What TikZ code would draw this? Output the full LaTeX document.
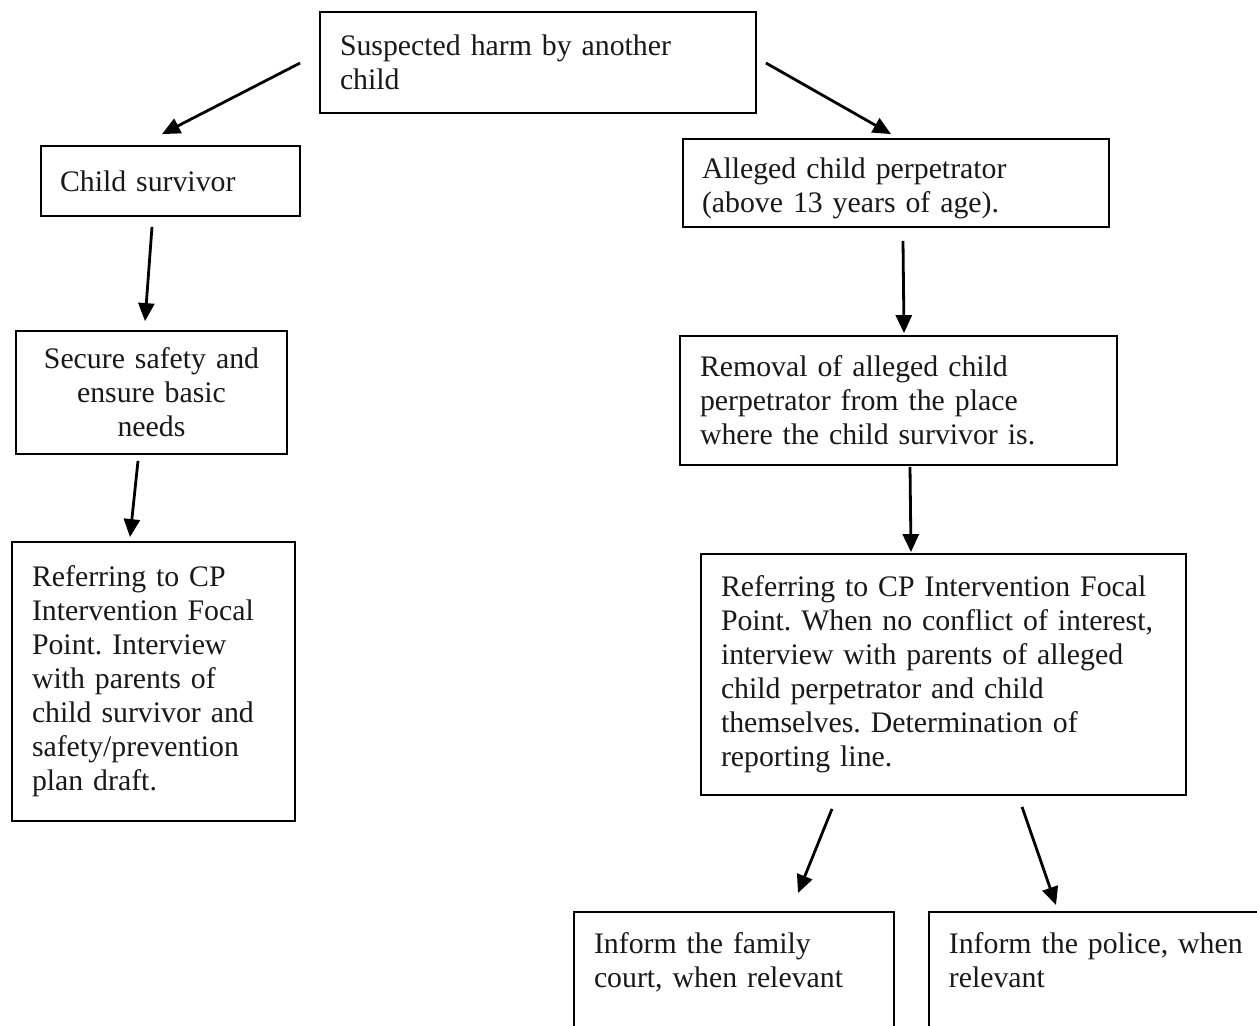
\documentclass[tikz,border=0pt]{standalone}
\usepackage{fontspec}
\setmainfont{Liberation Serif}
\usetikzlibrary{arrows.meta}
\tikzset{
  box/.style={draw=black, line width=1.8pt, rectangle, align=left,
    font=\fontsize{29.8}{34}\selectfont\frenchspacing, text=black!90, inner ysep=6pt},
  arr/.style={line width=2.8pt, -{Triangle[length=18pt,width=16pt]}},
}
\begin{document}
\begin{tikzpicture}[x=1pt,y=-1pt]
\useasboundingbox (0,0) rectangle (1257,1025);
\clip (0,0) rectangle (1257,1025);
\fill[white] (0,0) rectangle (1257,1025);

\node[box, inner xsep=20pt, text width=396pt, minimum height=101pt] (T) at (538,62.5)
  {Suspected harm by another\\child};
\node[box, inner xsep=19pt, text width=221pt, minimum height=70pt] (CS) at (170.5,181)
  {Child survivor};
\node[box, inner xsep=19pt, text width=388pt, minimum height=88pt, text depth=29pt] (AP) at (896,183)
  {Alleged child perpetrator\\(above 13 years of age).};
\node[box, align=center, inner xsep=10pt, text width=251pt, minimum height=123pt] (SS) at (151.5,392.5)
  {Secure safety and\\ensure basic\\needs};
\node[box, inner xsep=20pt, text width=397pt, minimum height=129pt] (RM) at (898.5,400.5)
  {Removal of alleged child\\perpetrator from the place\\where the child survivor is.};
\node[box, inner xsep=20pt, text width=243pt, minimum height=279pt] (RL) at (153.5,681.5)
  {Referring to CP\\Intervention Focal\\Point. Interview\\with parents of\\child survivor and\\safety/prevention\\plan draft.};
\node[box, inner xsep=20pt, text width=445pt, minimum height=241pt] (RR) at (943.5,674.5)
  {Referring to CP Intervention Focal\\Point. When no conflict of interest,\\interview with parents of alleged\\child perpetrator and child\\themselves. Determination of\\reporting line.};
\node[box, anchor=north, inner xsep=20pt, text width=280pt, text height=36pt, text depth=150pt] (FC) at (734,911)
  {Inform the family\\court, when relevant};
\node[box, anchor=north west, inner xsep=20pt, text width=330pt, text height=36pt, text depth=150pt] (PO) at (928,911)
  {Inform the police, when\\relevant};

\draw[arr] ([shift={(-19,0.5)}]T.west) -- ([shift={(-8.5,-11)}]CS.north);
\draw[arr] ([shift={(9,0.5)}]T.east) -- ([shift={(-5,-4)}]AP.north);
\draw[arr] ([shift={(-18.5,10)}]CS.south) -- ([shift={(-6.5,-9)}]SS.north);
\draw[arr] ([shift={(-13.5,6)}]SS.south) -- ([shift={(-23.5,-4)}]RL.north);
\draw[arr] ([shift={(7,13)}]AP.south) -- ([shift={(5.5,-2)}]RM.north);
\draw[arr] ([shift={(11.5,1)}]RM.south) -- ([shift={(-32.5,-1)}]RR.north);
\draw[arr] ([shift={(-111.5,13)}]RR.south) -- ([shift={(64,-18)}]FC.north);
\draw[arr] ([shift={(78.5,11)}]RR.south) -- ([shift={(128,-6)}]PO.north west);
\end{tikzpicture}
\end{document}
